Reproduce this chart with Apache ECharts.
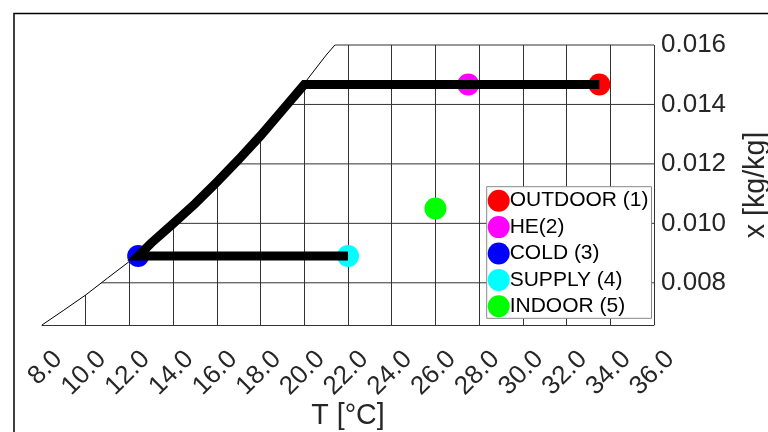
<!DOCTYPE html>
<html>
<head>
<meta charset="utf-8">
<script src="https://cdn.jsdelivr.net/npm/echarts@6/dist/echarts.min.js"></script>
<style>html,body{margin:0;padding:0;background:#fff;}#c{width:768px;height:432px;}</style>
</head>
<body>
<div id="c"></div>
<script>
// Axis ranges / ticks
const tMin = 8, tMax = 36, tStep = 2;
const xMin = 0.00658, xMax = 0.016;
const yTicks = [0.008, 0.010, 0.012, 0.014, 0.016];

// Saturation curve
const satT = [8, 9, 10, 11, 12, 13, 14, 15, 16, 17, 18, 19, 20, 21, 21.4];
const satX = [0.00658, 0.00708, 0.00759, 0.00816, 0.00872, 0.00934, 0.00999, 0.01066, 0.01139, 0.01215, 0.01295, 0.01381, 0.01471, 0.01566, 0.01600];

// Process path (thick black line)
const pathT = [33.5, 20.0, 19, 18, 17, 16, 15, 14, 13, 12.4, 22.0];
const pathX = [0.01467, 0.01467, 0.01381, 0.01295, 0.01215, 0.01139, 0.01066, 0.00999, 0.00934, 0.0089, 0.0089];

// State points
const pointNames = ['OUTDOOR (1)', 'HE(2)', 'COLD (3)', 'SUPPLY (4)', 'INDOOR (5)'];
const pointT = [33.5, 27.5, 12.4, 22.0, 26.0];
const pointX = [0.01467, 0.01467, 0.0089, 0.0089, 0.0105];
const pointColors = ['#ff0000', '#ff00ff', '#0000ff', '#00ffff', '#00ff00'];

const FONT = "'Liberation Sans', Arial, Helvetica, sans-serif";
const chart = echarts.init(document.getElementById('c'), null, {renderer: 'canvas'});

const zip = (a, b) => a.map((v, i) => [v, b[i]]);

const series = [];
// horizontal grid lines (full width, covered left of saturation curve)
yTicks.forEach((v, i) => {
  const last = i === yTicks.length - 1;
  series.push({
    type: 'line', z: 1, silent: true, symbol: 'none',
    lineStyle: {color: '#333', width: 1},
    data: last ? [[satT[satT.length - 1], v], [tMax, v]] : [[tMin, v], [tMax, v]],
    clip: false
  });
});
// saturation curve with white cover above it
series.push({
  type: 'line', data: zip(satT, satX), z: 2, silent: true,
  symbol: 'none', smooth: false,
  lineStyle: {color: '#000', width: 1},
  areaStyle: {color: '#ffffff', opacity: 1, origin: 'end'}
});
// state points
pointNames.forEach((n, i) => {
  series.push({
    name: n, type: 'scatter', z: 3,
    symbol: 'circle', symbolSize: 22,
    itemStyle: {color: pointColors[i], opacity: 1},
    data: [[pointT[i], pointX[i]]]
  });
});
// process path
series.push({
  type: 'line', data: zip(pathT, pathX), z: 4, silent: true,
  symbol: 'none',
  lineStyle: {color: '#000', width: 9, cap: 'butt', join: 'miter'}
});

chart.setOption({
  animation: false,
  backgroundColor: '#ffffff',
  grid: {left: 42, right: 114, top: 45, bottom: 107, containLabel: false, outerBoundsMode: 'none'},
  xAxis: {
    type: 'value', min: tMin, max: tMax, interval: tStep,
    name: 'T [°C]', nameLocation: 'middle', nameGap: 77, nameMoveOverlap: false,
    nameTextStyle: {fontSize: 28.6, color: '#262626', fontFamily: FONT},
    axisLine: {show: true, onZero: false, lineStyle: {color: '#333', width: 1}},
    axisTick: {show: false},
    splitLine: {show: true, showMinLine: false, lineStyle: {color: '#333', width: 1}},
    axisLabel: {
      rotate: 45, fontSize: 26, color: '#262626', fontFamily: FONT,
      margin: 28, verticalAlign: 'top', padding: [0, -10, 0, 0],
      formatter: v => v.toFixed(1)
    }
  },
  yAxis: {
    type: 'value', position: 'right', min: xMin, max: xMax,
    name: 'x [kg/kg]', nameLocation: 'middle', nameRotate: 90, nameGap: 88, nameMoveOverlap: false,
    nameTextStyle: {fontSize: 28.6, color: '#262626', fontFamily: FONT},
    axisLine: {show: false},
    axisTick: {show: false},
    splitLine: {show: false},
    axisLabel: {
      customValues: yTicks, showMinLabel: true, showMaxLabel: true,
      fontSize: 26, color: '#262626', fontFamily: FONT, margin: 7,
      formatter: v => v.toFixed(3)
    }
  },
  legend: {
    data: pointNames, orient: 'vertical',
    left: 486.7, top: 186.7,
    padding: [3, 3, 1, 1],
    itemWidth: 22, itemHeight: 22, itemGap: 4.4,
    icon: 'circle',
    backgroundColor: '#fff', borderColor: '#888', borderWidth: 1, borderRadius: 0,
    textStyle: {fontSize: 21, lineHeight: 22, color: '#000', fontFamily: FONT, padding: [0, 0, 0, -5]}
  },
  graphic: [{
    type: 'rect', silent: true, z: 100,
    shape: {x: 14, y: 13.5, width: 800, height: 500},
    style: {fill: 'none', stroke: '#000', lineWidth: 1.5}
  }],
  series: series
});
</script>
</body>
</html>
